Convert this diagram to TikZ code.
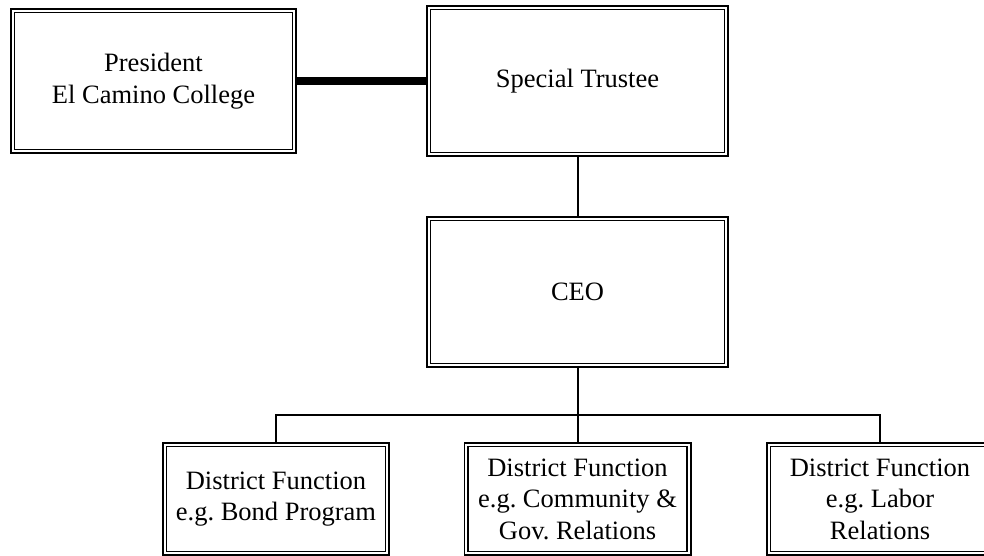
\documentclass[tikz,border=0pt]{standalone}
\usepackage{fontspec}
\setmainfont{Liberation Serif}
\usetikzlibrary{positioning}
\frenchspacing

\begin{document}
\begin{tikzpicture}[
  x=1pt, y=-1pt,
  unit/.style={rectangle, draw=black, line width=1.8pt, double=white, double distance=1.8pt,
    outer sep=2.7pt, align=center, font=\fontsize{26.5}{31.5}\selectfont},
  big/.style={unit, minimum width=297.6pt, minimum height=146.6pt},
  small/.style={unit, minimum width=222.6pt, minimum height=108.6pt},
  link/.style={draw=black, line width=2pt}
]
\clip (0,0) rectangle (984,556);
\node[unit, minimum width=281.6pt, minimum height=140.6pt] (pres) at (153.5,81) {President\\El Camino College};
\node[big] (trustee) at (577.5,81) {Special Trustee};
\node[big] (ceo) at (577.5,292) {CEO};
\node[small] (bond) at (276,499) {District Function\\e.g. Bond Program};
\node[small] (comm) at (577.5,499) {District Function\\e.g. Community \&\\Gov. Relations};
\node[small] (labor) at (880,499) {District Function\\e.g. Labor\\Relations};
\coordinate (bus) at (577.5,415);
\draw[line width=8pt] (pres.east) -- (trustee.west);
\draw[link] (trustee.south) -- (ceo.north);
\draw[link] (ceo.south) -- (comm.north);
\draw[link] (bond.north) |- (bus) -| (labor.north);
\end{tikzpicture}
\end{document}
